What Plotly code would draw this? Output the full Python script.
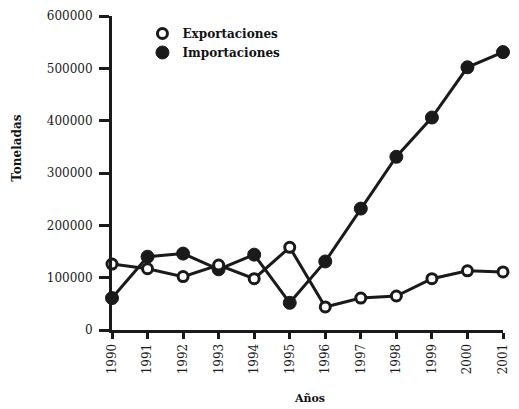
import plotly.graph_objects as go

years = [1990, 1991, 1992, 1993, 1994, 1995, 1996, 1997, 1998, 1999, 2000, 2001]
exportaciones = [126000, 117000, 102000, 124000, 98000, 158000, 44000, 61000, 65000, 98000, 113000, 111000]
importaciones = [61000, 140000, 146000, 116000, 144000, 52000, 131000, 232000, 331000, 406000, 502000, 531000]
y_ticks = [0, 100000, 200000, 300000, 400000, 500000, 600000]
y_labels = ["0", "100000", "200000", "300000", "400000", "500000", "600000"]

INK = "#1a1a1a"
SERIF = "DejaVu Serif"

# plot area in pixels
W, H = 519, 409
PL, PR, PT, PB = 112, 510, 16, 330
pw, ph = PR - PL, PB - PT


def px(x):
    return (x - PL) / pw


def py(y):
    return (PB - y) / ph


fig = go.Figure()

fig.add_trace(go.Scatter(
    x=years, y=importaciones, mode="lines+markers", name="Importaciones",
    line=dict(color=INK, width=3),
    marker=dict(symbol="circle", size=13, color=INK, line=dict(color=INK, width=1)),
    showlegend=False, cliponaxis=False,
))
fig.add_trace(go.Scatter(
    x=years, y=exportaciones, mode="lines+markers", name="Exportaciones",
    line=dict(color=INK, width=3),
    marker=dict(symbol="circle", size=10, color="white", line=dict(color=INK, width=3)),
    showlegend=False, cliponaxis=False,
))

# legend-only entries (markers only, as in the original)
fig.add_trace(go.Scatter(
    x=[None], y=[None], mode="markers", name="<b>Exportaciones</b>",
    marker=dict(symbol="circle", size=10, color="white", line=dict(color=INK, width=3)),
))
fig.add_trace(go.Scatter(
    x=[None], y=[None], mode="markers", name="<b>Importaciones</b>",
    marker=dict(symbol="circle", size=13, color=INK, line=dict(color=INK, width=1)),
))

fig.update_layout(
    width=W, height=H,
    margin=dict(l=PL, r=W - PR, t=PT, b=H - PB, pad=0),
    paper_bgcolor="white", plot_bgcolor="white",
    font=dict(family=SERIF, size=12, color="#1a1a1a"),
    legend=dict(
        x=px(143), y=py(19), xanchor="left", yanchor="top",
        bgcolor="rgba(0,0,0,0)", borderwidth=0,
        font=dict(family=SERIF, size=12, color="#111"),
        traceorder="normal", itemwidth=30,
    ),
    xaxis=dict(
        range=[1990, 2001], tickmode="array", tickvals=years,
        ticktext=[str(y) for y in years], tickangle=-90,
        showline=True, linecolor=INK, linewidth=3, mirror=False,
        ticks="outside", ticklen=6, tickwidth=3, tickcolor=INK,
        showgrid=False, zeroline=False,
        tickfont=dict(family=SERIF, size=12, color="#1a1a1a"),
    ),
    yaxis=dict(
        range=[0, 600000], tickmode="array", tickvals=y_ticks, ticktext=y_labels,
        showline=True, linecolor=INK, linewidth=3,
        ticks="outside", ticklen=10, tickwidth=3, tickcolor=INK,
        showgrid=False, zeroline=False, ticklabelstandoff=4,
        tickfont=dict(family=SERIF, size=12, color="#1a1a1a"),
    ),
    annotations=[
        dict(text="<b>Toneladas</b>", xref="paper", yref="paper",
             x=px(15), y=py(148), xanchor="center", yanchor="middle",
             textangle=-90, showarrow=False,
             font=dict(family=SERIF, size=12, color="#111")),
        dict(text="<b>Años</b>", xref="paper", yref="paper",
             x=px(313), y=py(398), xanchor="center", yanchor="middle",
             showarrow=False,
             font=dict(family=SERIF, size=11, color="#111")),
    ],
)

fig.write_html(
    "out.html",
    config={"displayModeBar": False},
    post_script="document.body.style.margin='0';document.body.style.overflow='hidden';",
)
